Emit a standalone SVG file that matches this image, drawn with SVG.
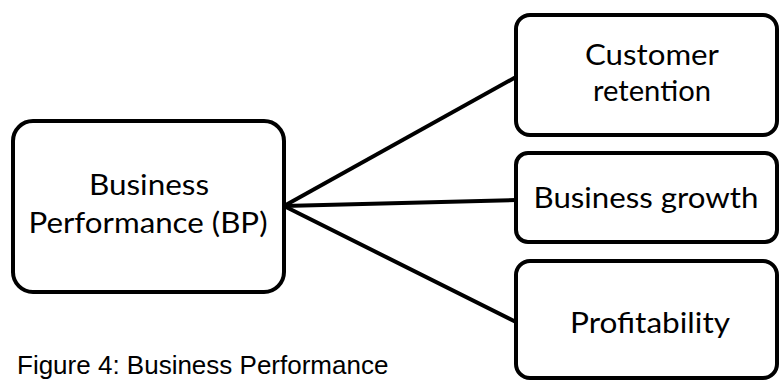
<svg xmlns="http://www.w3.org/2000/svg" width="780" height="381" viewBox="0 0 780 381">
  <style>
    .box { fill: #ffffff; stroke: #000000; stroke-width: 4; }
    .lbl { font-family: Lato, "Noto Sans", sans-serif; font-size: 29px; fill: #000000; text-anchor: middle; }
    .cap { font-family: "Liberation Sans", Arial, sans-serif; font-size: 26px; fill: #000000; }
    .link { stroke: #000000; stroke-width: 4; fill: none; }
  </style>
  <rect width="780" height="381" fill="#ffffff"/>
  <g id="connectors">
    <line class="link" x1="284" y1="206" x2="516" y2="77"/>
    <line class="link" x1="284" y1="206" x2="516" y2="200"/>
    <line class="link" x1="284" y1="206" x2="516" y2="322"/>
  </g>
  <g id="bp">
    <rect class="box" x="13" y="121" width="271" height="171" rx="20"/>
    <text class="lbl" x="149" y="195" textLength="120" lengthAdjust="spacingAndGlyphs">Business</text>
    <text class="lbl" x="148" y="233" textLength="239" lengthAdjust="spacingAndGlyphs">Performance (BP)</text>
  </g>
  <g id="retention">
    <rect class="box" x="516" y="15" width="261" height="120" rx="14"/>
    <text class="lbl" x="652" y="65" textLength="134" lengthAdjust="spacingAndGlyphs">Customer</text>
    <text class="lbl" x="652" y="101" textLength="118" lengthAdjust="spacingAndGlyphs">retention</text>
  </g>
  <g id="growth">
    <rect class="box" x="516" y="153" width="261" height="89" rx="12"/>
    <text class="lbl" x="646" y="208" textLength="225" lengthAdjust="spacingAndGlyphs">Business growth</text>
  </g>
  <g id="profit">
    <rect class="box" x="516" y="261" width="261" height="117" rx="14"/>
    <text class="lbl" x="650" y="333" textLength="160" lengthAdjust="spacingAndGlyphs">Profitability</text>
  </g>
  <text class="cap" x="17" y="374">Figure 4: Business Performance</text>
</svg>
